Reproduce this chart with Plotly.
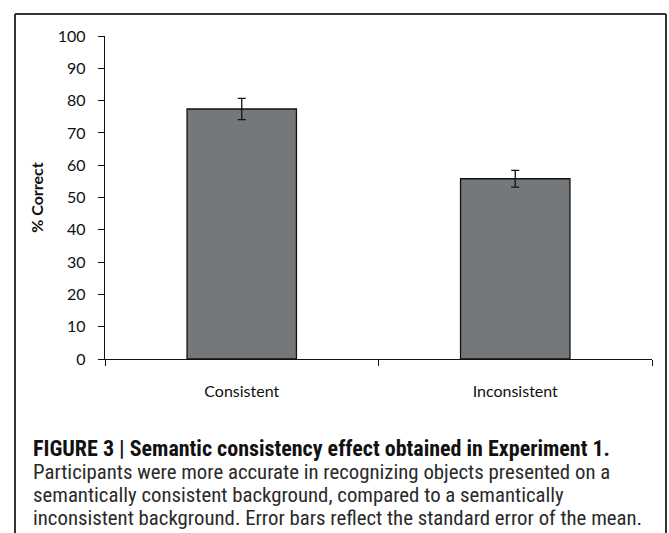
import plotly.graph_objects as go

categories = ["Consistent", "Inconsistent"]
percent_correct = [77.4, 55.8]
std_error = [3.3, 2.6]
y_ticks = [0, 10, 20, 30, 40, 50, 60, 70, 80, 90, 100]

caption_title = "<b>FIGURE 3 | Semantic consistency effect obtained in Experiment 1.</b>"
caption_lines = [
    "Participants were more accurate in recognizing objects presented on a",
    "semantically consistent background, compared to a semantically",
    "inconsistent background. Error bars reflect the standard error of the mean.",
]

W, H = 669, 533
L, R, T, B = 105, 17, 36, 174
pw, ph = W - L - R, H - T - B

def px_to_paper_x(px):
    return (px - L) / pw

def py_to_paper_y(py):
    return (H - B - py) / ph

fig = go.Figure()
fig.add_trace(go.Bar(
    x=categories, y=percent_correct, width=0.4,
    marker=dict(color="#75787b", line=dict(color="#111111", width=1.3)),
    error_y=dict(type="data", array=std_error, visible=True,
                 color="#111111", thickness=1.3, width=4),
))

tick_font = dict(family="Lato, 'Open Sans', sans-serif", size=16, color="#111111")

fig.update_layout(
    width=W, height=H,
    margin=dict(l=L, r=R, t=T, b=B),
    paper_bgcolor="white", plot_bgcolor="white",
    showlegend=False,
    bargap=0.6,
    xaxis=dict(
        showline=True, linecolor="#111111", linewidth=1.3,
        ticks="outside", tickson="boundaries", ticklen=6, tickwidth=1.3, tickcolor="#111111",
        tickfont=tick_font, showgrid=False, ticklabelstandoff=18,
    ),
    yaxis=dict(
        range=[0, 100], tickvals=y_ticks,
        showline=True, linecolor="#111111", linewidth=1.3,
        ticks="outside", ticklen=6, tickwidth=1.3, tickcolor="#111111",
        tickfont=tick_font, showgrid=False, zeroline=False, ticklabelstandoff=9,
        title=dict(text="<b>% Correct</b>", font=dict(family="Lato, 'Open Sans', sans-serif", size=16, color="#111111"), standoff=10),
    ),
)

# outer figure frame (left, top, right edges)
fx0, fx1 = px_to_paper_x(15), px_to_paper_x(666)
fy0, fy1 = py_to_paper_y(533), py_to_paper_y(14)
frame_line = dict(color="#333333", width=2)
fig.add_shape(type="line", xref="paper", yref="paper", x0=fx0, x1=fx0, y0=fy0, y1=fy1, line=frame_line, layer="above")
fig.add_shape(type="line", xref="paper", yref="paper", x0=fx1, x1=fx1, y0=fy0, y1=fy1, line=frame_line, layer="above")
fig.add_shape(type="line", xref="paper", yref="paper", x0=fx0, x1=fx1, y0=fy1, y1=fy1, line=frame_line, layer="above")

cap_font = "'Roboto Condensed', 'Liberation Sans Narrow', 'Arial Narrow', sans-serif"
line_y = [448, 472, 495, 518]
texts = [caption_title] + caption_lines
for i, (t, yy) in enumerate(zip(texts, line_y)):
    fig.add_annotation(
        xref="paper", yref="paper", x=px_to_paper_x(31), y=py_to_paper_y(yy),
        xanchor="left", yanchor="middle", showarrow=False, text=t,
        font=dict(family=cap_font, size=22 if i == 0 else 20.8, color="#111111" if i == 0 else "#2a2a2a"),
    )

fig.write_html("out.html", config={"displayModeBar": False},
               post_script="document.body.style.margin='0';document.body.style.overflow='hidden';")
